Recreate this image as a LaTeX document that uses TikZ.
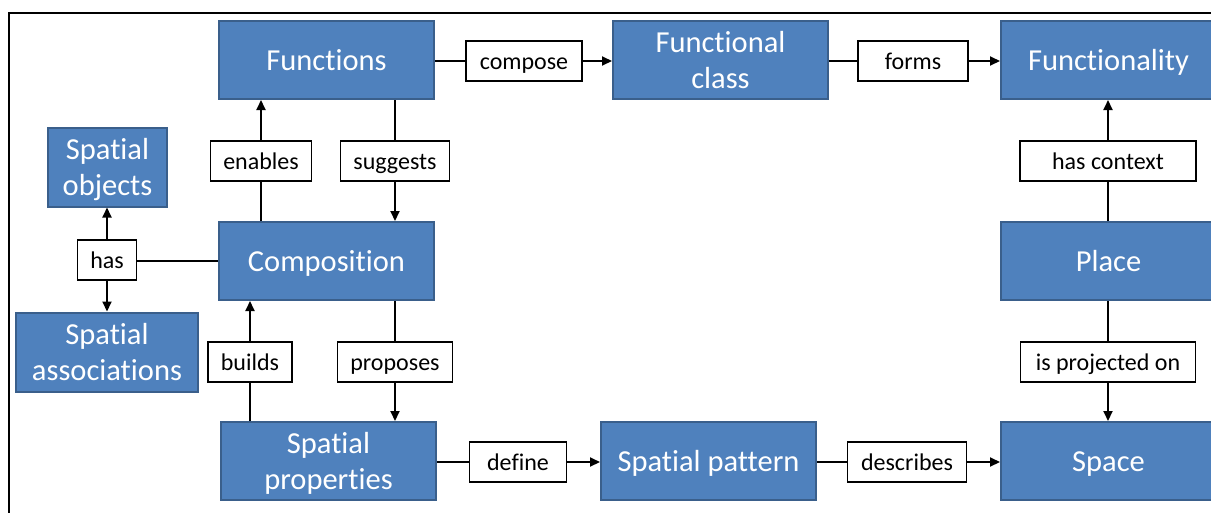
\documentclass[tikz,border=0pt]{standalone}
\usepackage{fontspec}
\setmainfont{Carlito}[Ligatures=NoCommon]
\usetikzlibrary{arrows.meta}
\definecolor{boxblue}{HTML}{4F81BD}
\definecolor{boxedge}{HTML}{3A5F8B}
\begin{document}
\begin{tikzpicture}[x=1pt,y=-1pt,
  bigbox/.style={fill=boxblue,draw=boxedge,line width=2pt,minimum width=215pt,minimum height=78pt,inner sep=0pt,text=white,align=center,font=\fontsize{30.5}{36}\selectfont},
  oneline/.style={text height=24pt,text depth=4pt},
  lowtext/.style={text depth=0.5pt},
  lab/.style={fill=white,draw=black,line width=1.2pt,minimum height=40pt,inner sep=0pt,text height=19.5pt,text depth=3pt,font=\fontsize{24}{28}\selectfont},
  conn/.style={line width=2pt},
  arr/.style={conn,-{Triangle[length=10pt,width=9pt]}}]
\useasboundingbox (0,0) rectangle (1211,512);
\clip (0,0) rectangle (1211,512);
\draw[line width=2.5pt] (9,13) rectangle (1240,540);
% main boxes
\node[bigbox,oneline] (func) at (326.5,60) {Functions};
\node[bigbox] (fc) at (720.5,60) {Functional\\class};
\node[bigbox,oneline] (fy) at (1108.5,60) {Functionality};
\node[bigbox,oneline] (comp) at (326.5,261) {Composition};
\node[bigbox,oneline] (place) at (1108.5,261) {Place};
\node[bigbox,lowtext] (sp) at (328.5,461) {Spatial\\properties};
\node[bigbox,oneline] (spat) at (708.5,461) {Spatial pattern};
\node[bigbox,oneline] (space) at (1108.5,461) {Space};
\node[bigbox,lowtext,minimum width=119pt,minimum height=79pt] (so) at (107.5,167) {Spatial\\objects};
\node[bigbox,minimum width=182pt,minimum height=79pt] (sa) at (107,352) {Spatial\\associations};
% labels
\node[lab,minimum width=116pt] (compose) at (524,61) {compose};
\node[lab,minimum width=110pt] (forms) at (913,61) {forms};
\node[lab,minimum width=101pt] (enables) at (261,161) {enables};
\node[lab,minimum width=109pt] (suggests) at (395,161) {suggests};
\node[lab,minimum width=59pt] (has) at (107,260) {has};
\node[lab,minimum width=84pt] (builds) at (250,362) {builds};
\node[lab,minimum width=115pt] (proposes) at (395,362) {proposes};
\node[lab,minimum width=97pt] (define) at (518,462) {define};
\node[lab,minimum width=119pt] (describes) at (907,462) {describes};
\node[lab,minimum width=176pt] (hascontext) at (1108,161) {has context};
\node[lab,minimum width=175pt] (proj) at (1108,362) {is projected on};
% connectors
\draw[conn] (func.east |- compose) -- (compose.west);
\draw[arr] (compose.east) -- (compose -| fc.west);
\draw[conn] (fc.east |- forms) -- (forms.west);
\draw[arr] (forms.east) -- (forms -| fy.west);
\draw[conn] (comp.north -| enables) -- (enables.south);
\draw[arr] (enables.north) -- (enables |- func.south);
\draw[conn] (func.south -| suggests) -- (suggests.north);
\draw[arr] (suggests.south) -- (suggests |- comp.north);
\draw[conn] (comp.west) -- (has.east |- comp.west);
\draw[arr] (has.north) -- (has |- so.south);
\draw[arr] (has.south) -- (has |- sa.north);
\draw[conn] (sp.north -| builds) -- (builds.south);
\draw[arr] (builds.north) -- (builds |- comp.south);
\draw[conn] (comp.south -| proposes) -- (proposes.north);
\draw[arr] (proposes.south) -- (proposes |- sp.north);
\draw[conn] (sp.east |- define) -- (define.west);
\draw[arr] (define.east) -- (define -| spat.west);
\draw[conn] (spat.east |- describes) -- (describes.west);
\draw[arr] (describes.east) -- (describes -| space.west);
\draw[conn] (place.north -| hascontext) -- (hascontext.south);
\draw[arr] (hascontext.north) -- (hascontext |- fy.south);
\draw[conn] (place.south -| proj) -- (proj.north);
\draw[arr] (proj.south) -- (proj |- space.north);
\end{tikzpicture}
\end{document}
